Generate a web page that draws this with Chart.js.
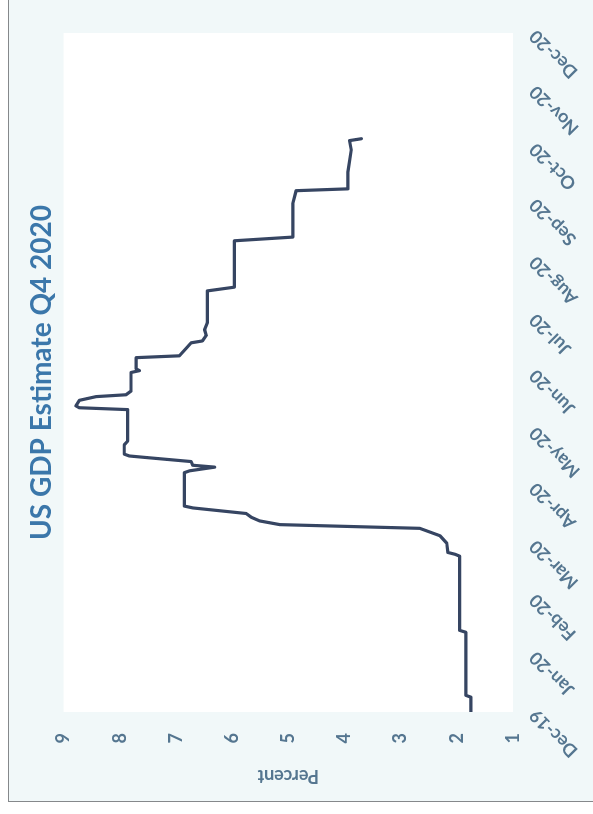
<!DOCTYPE html>
<html>
<head>
<meta charset="utf-8">
<title>US GDP Estimate Q4 2020</title>
<script src="https://cdn.jsdelivr.net/npm/chart.js@4/dist/chart.umd.min.js"></script>
<style>
  html, body { margin: 0; padding: 0; width: 593px; height: 814px; overflow: hidden; background: #ffffff; }
  /* the sheet is laid out landscape and turned a quarter turn counter-clockwise */
  #sheet {
    position: absolute; left: 0; top: 0;
    width: 814px; height: 593px;
    transform-origin: 0 0;
    transform: translate(0, 814px) rotate(-90deg);
    background: #ffffff;
  }
  #frame {
    position: absolute; left: 12px; top: 8px;
    width: 830px; height: 610px;
    border: 1.5px solid #85888b;
    background: #f1f8f9;
  }
  #c { position: absolute; left: 0; top: 0; }
</style>
</head>
<body>
<div id="sheet">
  <div id="frame"></div>
  <canvas id="c" width="814" height="593"></canvas>
</div>
<script>
// Date axis: first of each month, Dec 2019 to Dec 2020
const monthTicks = ['2019-12-01','2020-01-01','2020-02-01','2020-03-01','2020-04-01','2020-05-01',
                    '2020-06-01','2020-07-01','2020-08-01','2020-09-01','2020-10-01','2020-11-01','2020-12-01'];
const monthLabels = ['Dec-19','Jan-20','Feb-20','Mar-20','Apr-20','May-20',
                     'Jun-20','Jul-20','Aug-20','Sep-20','Oct-20','Nov-20','Dec-20'];

// Percent axis
const percentTicks = [1, 2, 3, 4, 5, 6, 7, 8, 9];

// Q4 2020 GDP estimate, percent, by release date
const estimateDates = [
  '2019-12-01','2019-12-09','2019-12-10','2020-01-13','2020-01-14','2020-02-23','2020-02-24','2020-02-25',
  '2020-03-01','2020-03-05','2020-03-09','2020-03-11','2020-03-13','2020-03-15','2020-03-17','2020-03-20',
  '2020-03-21','2020-04-08','2020-04-09','2020-04-11','2020-04-12','2020-04-14','2020-04-16','2020-04-17',
  '2020-04-18','2020-04-23','2020-04-25','2020-05-12','2020-05-13','2020-05-14','2020-05-17','2020-05-19',
  '2020-05-20','2020-05-22','2020-06-01','2020-06-02','2020-06-03','2020-06-09','2020-06-10','2020-06-14',
  '2020-06-17','2020-06-18','2020-06-21','2020-06-24','2020-06-28','2020-07-15','2020-07-17','2020-08-11',
  '2020-08-13','2020-08-31','2020-09-07','2020-09-08','2020-09-17','2020-09-29','2020-10-04','2020-10-05'
];
const estimateValues = [
  1.75, 1.75, 1.84, 1.84, 1.95, 1.95, 2.03, 2.16,
  2.18, 2.30, 2.66, 5.15, 5.51, 5.66, 5.75, 6.70,
  6.85, 6.85, 6.76, 6.31, 6.70, 6.73, 7.47, 7.83,
  7.92, 7.92, 7.86, 7.86, 8.72, 8.78, 8.72, 8.42,
  7.89, 7.80, 7.80, 7.65, 7.71, 7.71, 6.94, 6.82,
  6.73, 6.53, 6.46, 6.49, 6.44, 6.44, 5.96, 5.96,
  4.92, 4.92, 4.86, 3.94, 3.94, 3.88, 3.91, 3.70
];

// days since the first month tick
function dayNumber(iso) {
  const [y, m, d] = iso.split('-').map(Number);
  const [y0, m0, d0] = monthTicks[0].split('-').map(Number);
  return (Date.UTC(y, m - 1, d) - Date.UTC(y0, m0 - 1, d0)) / 86400000;
}
const tickDays = monthTicks.map(dayNumber);
const points = estimateDates.map((d, i) => ({ x: dayNumber(d), y: estimateValues[i] }));

const labelColor = '#557690';
const fontFamily = 'Lato, "Open Sans", sans-serif';

// white plot area on the tinted chart background
const plotBackground = {
  id: 'plotBackground',
  beforeDraw(chart) {
    const { ctx, chartArea: a } = chart;
    ctx.save();
    ctx.fillStyle = '#ffffff';
    ctx.fillRect(a.left, a.top, a.right - a.left, a.bottom - a.top);
    ctx.restore();
  }
};

new Chart(document.getElementById('c'), {
  type: 'line',
  data: {
    datasets: [{
      data: points,
      borderColor: '#364562',
      borderWidth: 3.2,
      borderJoinStyle: 'round',
      borderCapStyle: 'round',
      pointRadius: 0,
      tension: 0,
      fill: false
    }]
  },
  plugins: [plotBackground],
  options: {
    responsive: false,
    animation: false,
    events: [],
    layout: { padding: { left: 0, right: 33, top: 0, bottom: 0 } },
    plugins: {
      legend: { display: false },
      tooltip: { enabled: false },
      title: {
        display: true,
        text: 'US GDP Estimate Q4 2020',
        fullSize: false,
        color: '#3b77aa',
        font: { family: fontFamily, size: 28, weight: 'bold', lineHeight: 1.2 },
        padding: { top: 25, bottom: 5 }
      }
    },
    scales: {
      x: {
        type: 'linear',
        position: 'bottom',
        min: tickDays[0],
        max: tickDays[tickDays.length - 1],
        afterBuildTicks(scale) { scale.ticks = tickDays.map(v => ({ value: v })); },
        afterFit(scale) { scale.height = 80; },
        grid: { display: false, drawTicks: false },
        border: { display: false },
        ticks: {
          autoSkip: false,
          minRotation: 45,
          maxRotation: 45,
          padding: 12,
          color: labelColor,
          font: { family: fontFamily, size: 18, weight: 'bold' },
          callback: (v, i) => monthLabels[i]
        }
      },
      y: {
        min: percentTicks[0],
        max: percentTicks[percentTicks.length - 1],
        afterBuildTicks(scale) { scale.ticks = percentTicks.map(v => ({ value: v })); },
        afterFit(scale) { scale.width = 102; },
        grid: { display: false, drawTicks: false },
        border: { display: false },
        ticks: {
          padding: 21,
          color: labelColor,
          font: { family: fontFamily, size: 18, weight: 'bold' }
        },
        title: {
          display: true,
          text: 'Percent',
          color: labelColor,
          font: { family: fontFamily, size: 18, weight: 'bold' },
          padding: { top: 27, bottom: 0 }
        }
      }
    }
  }
});
</script>
</body>
</html>
